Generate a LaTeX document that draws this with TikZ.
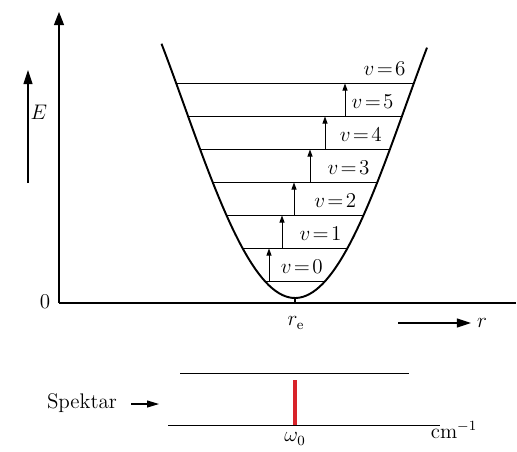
\documentclass[tikz,border=0pt]{standalone}
\usepackage{tikz}
\usetikzlibrary{arrows.meta}
\definecolor{peakred}{HTML}{D8232A}

\begin{document}
\begin{tikzpicture}[
        font=\fontsize{12}{14}\selectfont,
        axis/.style={line width=0.6pt},
        level/.style={line width=0.5pt},
        well/.style={line width=1.1pt},
        jump/.style={-{Triangle[length=0.14cm,width=0.1cm]},line width=0.5pt},
        pointer/.style={-{Triangle[length=0.28cm,width=0.18cm]},line width=0.6pt},
        peak/.style={line width=2.2pt,peakred},
        declare function={halfw(\h)=sqrt((0.9405-sqrt(0.9405*0.9405-4*0.03186*\h))/(2*0.03186));}
    ]
        \useasboundingbox (-1.18,-2.96) rectangle (9.16,6.06);

        % axes
        \coordinate (origin) at (0,0);
        \coordinate (ytop) at (0,5.82);
        \coordinate (xend) at (9.14,0);
        \draw[axis,-{Triangle[length=0.26cm,width=0.2cm]}] (origin) -- (ytop);
        \draw[axis] (origin) -- (xend);
        \node (zero) at (-0.28,0.02) {0};

        \coordinate (ebottom) at (-0.62,2.4);
        \coordinate (etop) at (-0.62,4.66);
        \draw[pointer] (ebottom) -- (etop);
        \node (energy) at (-0.40,3.82) {$E$};

        % potential well and levels
        \coordinate (bottom) at (4.72,0.1);
        \draw[well,domain=-2.67:2.64,samples=80] plot ({4.72+\x},{0.1+0.9405*\x*\x-0.03186*\x*\x*\x*\x});
        \draw[axis] (bottom) -- (bottom |- origin);
        \foreach \v in {0,...,6} {
            \pgfmathsetmacro{\hh}{(\v+0.5)*0.66}
            \pgfmathsetmacro{\yy}{0.1+\hh}
            \pgfmathsetmacro{\ww}{halfw(\hh)}
            \coordinate (lev\v) at (4.72,\yy);
            \draw[level] ([xshift=-\ww cm]lev\v) -- ([xshift=\ww cm]lev\v);
            \pgfmathsetmacro{\lx}{4.72+halfw(\hh+0.3)-0.15}
            \node[anchor=east] (vlab\v) at (\lx,\yy+0.3) {$v\mkern2mu{=}\mkern2mu\v$};
        }
        \foreach \v/\w/\ax in {0/1/4.2,1/2/4.46,2/3/4.7,3/4/5.02,4/5/5.32,5/6/5.72}
            \draw[jump] (\ax,0 |- lev\v) -- (\ax,0 |- lev\w);

        \node (re) at (4.74,-0.40) {$r_{\mathrm{e}}$};
        \node (rlab) at (8.46,-0.40) {$r$};
        \coordinate (rstart) at (6.78,-0.40);
        \draw[pointer] (rstart) -- (rlab.west);

        % spectrum
        \node (spek) at (0.46,-2.0) {Spektar};
        \coordinate (spektip) at (2.0,-2.02);
        \draw[-{Triangle[length=0.24cm,width=0.14cm]},line width=0.6pt] ([xshift=0.16cm,yshift=-0.02cm]spek.east) -- (spektip);
        \draw[level] (2.42,-1.40) -- (7.0,-1.40);
        \draw[level] (2.18,-2.44) -- (7.62,-2.44);
        \coordinate (omtop) at (4.72,-1.54);
        \coordinate (ombase) at (4.72,-2.44);
        \draw[peak] (omtop) -- (ombase);
        \node (omega) at (4.72,-2.72) {$\omega_0$};
        \node (unit) at (7.9,-2.54) {cm$^{-1}$};
    \end{tikzpicture}
\end{document}
